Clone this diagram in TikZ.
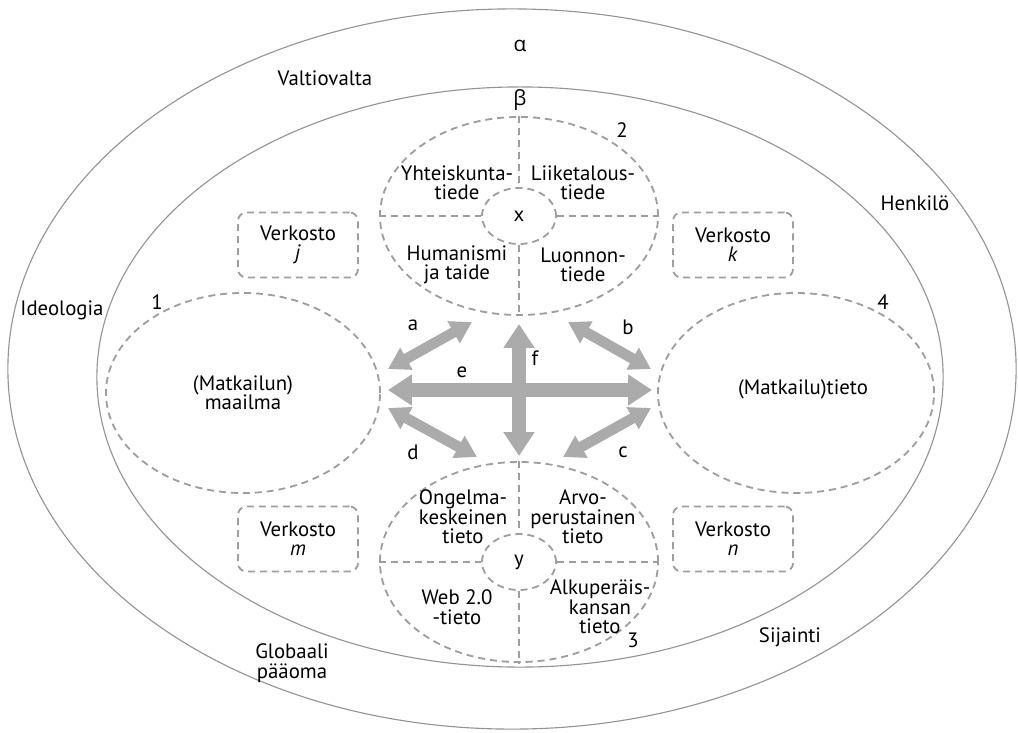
\documentclass[tikz,border=0pt]{standalone}
\usepackage{fontspec}
\setmainfont[Numbers=Lining]{PT Sans}
\newfontfamily\grk{Open Sans}
\usetikzlibrary{arrows.meta, shapes.geometric, positioning}
\colorlet{colorLine}{black!38}
\colorlet{colorRing}{black!42}
\colorlet{colorArrow}{black!33}
\tikzset{
  ring/.style={draw=colorRing, line width=0.8pt, ellipse, inner sep=0pt},
  dsh/.style={draw=colorLine, line width=1.3pt, dash pattern=on 5pt off 3.5pt},
  area/.style={dsh, ellipse, inner sep=0pt, align=center},
  netbox/.style={dsh, rounded corners=6pt, minimum width=3cm, minimum height=1.625cm, align=center, inner sep=0pt},
  lbl/.style={align=center, inner sep=0pt},
  bigarr/.style={colorArrow, line width=10.6pt, {Triangle[width=21pt,length=17pt]}-{Triangle[width=21pt,length=17pt]}},
  smallarr/.style={colorArrow, line width=7.5pt, {Triangle[width=17pt,length=15pt]}-{Triangle[width=17pt,length=15pt]}},
}

\begin{document}
\begin{tikzpicture}[x=0.025cm, y=-0.025cm, font=\fontsize{14.8}{13.8}\selectfont]
\useasboundingbox (0,0) rectangle (1018,732);
\node[ring, minimum width=25.2cm, minimum height=18cm] (outer) at (512,369) {};
\node[ring, minimum width=21.15cm, minimum height=14.5cm] (inner) at (520,377) {};

\node[area, minimum width=6.85cm, minimum height=5cm] (w1) at (243,393) {(Matkailun)\\maailma};
\node[area, minimum width=6.95cm, minimum height=4.95cm] (w2) at (519,216) {};
\node[area, minimum width=6.95cm, minimum height=5cm] (w3) at (519,562) {};
\node[area, minimum width=6.9cm, minimum height=5cm] (w4) at (796,393) {};
\node[lbl] (t4) at (803,389) {(Matkailu)tieto};

\node[area, minimum width=1.85cm, minimum height=1.4cm] (x) at (w2) {x};
\node[area, minimum width=1.85cm, minimum height=1.4cm] (y) at (w3) {y};
\draw[dsh] (w2.north) -- (x.north) (x.south) -- (w2.south) (w2.west) -- (x.west) (x.east) -- (w2.east);
\draw[dsh] (w3.north) -- (y.north) (y.south) -- (w3.south) (w3.west) -- (y.west) (y.east) -- (w3.east);

\node[lbl] (q1) at (457,183) {Yhteiskunta-\\tiede};
\node[lbl] (q2) at (583,183) {Liiketalous-\\tiede};
\node[lbl] (q3) at (457,265) {Humanismi\\ja taide};
\node[lbl] (q4) at (583,265) {Luonnon-\\tiede};
\node[lbl] (q5) at (463,517) {Ongelma-\\keskeinen\\tieto};
\node[lbl] (q6) at (583,517) {Arvo-\\perustainen\\tieto};
\node[lbl] (q7) at (457,607) {Web 2.0\\-tieto};
\node[lbl] (q8) at (600,607) {Alkuperäis-\\kansan\\tieto};

\node[netbox] (nj) at (298,245) {Verkosto\\\textit{j}};
\node[netbox] (nk) at (733,245) {Verkosto\\\textit{k}};
\node[netbox] (nm) at (298,539) {Verkosto\\\textit{m}};
\node[netbox] (nn) at (733,539) {Verkosto\\\textit{n}};

\coordinate (a1) at (388,369); \coordinate (a2) at (472,322);
\coordinate (b1) at (568,322); \coordinate (b2) at (651,369);
\coordinate (c1) at (563,457); \coordinate (c2) at (651,408);
\coordinate (d1) at (388,408); \coordinate (d2) at (477,457);
\draw[smallarr] (a1) -- (a2);
\draw[smallarr] (b1) -- (b2);
\draw[smallarr] (c1) -- (c2);
\draw[smallarr] (d1) -- (d2);
\draw[bigarr, shorten <=0.175cm, shorten >=0.125cm] ([yshift=0.075cm]w1.east) -- ([yshift=0.075cm]w4.west);
\draw[bigarr, shorten <=0.2cm, shorten >=0.125cm] (w2) -- (w3);

\node[lbl] (la) at (413,325) {a};
\node[lbl] (lb) at (628,327) {b};
\node[lbl] (lc) at (623,452) {c};
\node[lbl] (ld) at (413,452) {d};
\node[lbl] (le) at (462,372) {e};
\node[lbl] (lf) at (535,358) {f};

\node[lbl] (n1) at (157,302) {1};
\node[lbl] (n2) at (622,130) {2};
\node[lbl] (n3) at (633,640) {3};
\node[lbl] (n4) at (883,302) {4};

\node[lbl] (alpha) at (520,46) {\grk α};
\node[lbl] (beta) at (520,100) {\grk β};
\node[lbl] (valta) at (325,78) {Valtiovalta};
\node[lbl] (henk) at (915,203) {Henkilö};
\node[lbl] (ideo) at (62,310) {Ideologia};
\node[lbl] (glob) at (292,663) {Globaali\\pääoma};
\node[lbl] (sij) at (790,637) {Sijainti};
\end{tikzpicture}
\end{document}
